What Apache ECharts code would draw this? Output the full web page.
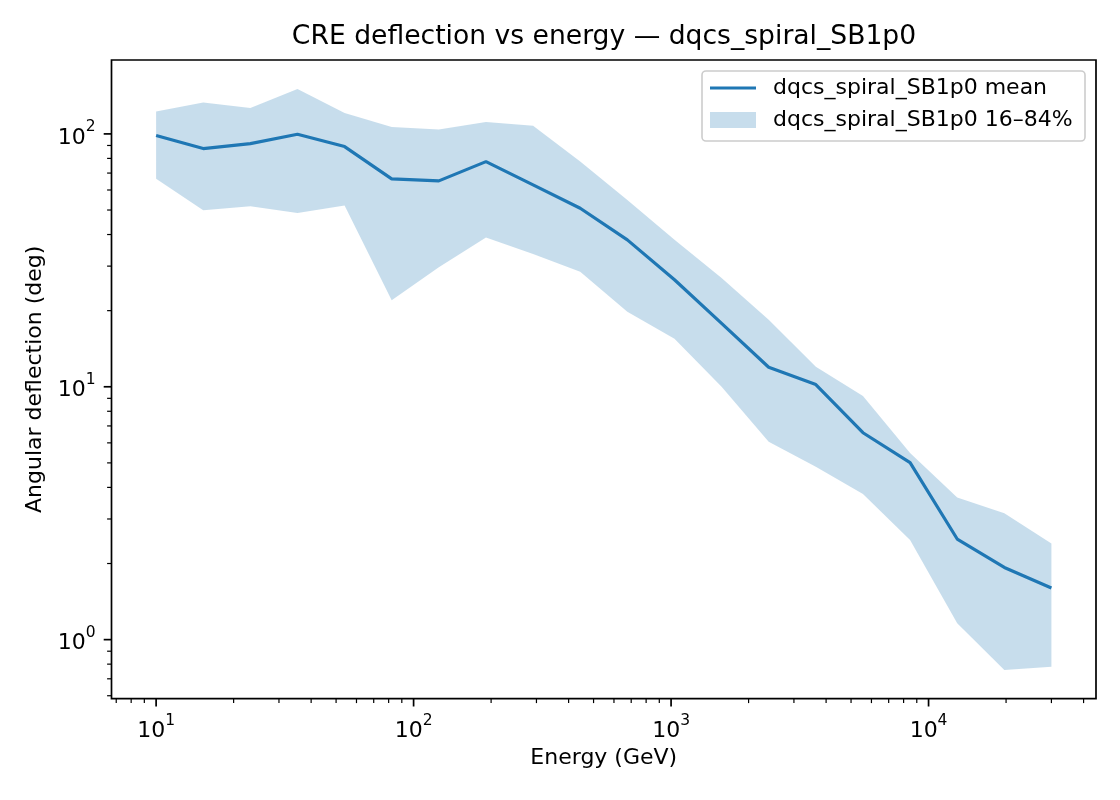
<!DOCTYPE html>
<html>
<head>
<meta charset="utf-8">
<style>html,body{margin:0;padding:0;background:#fff}#c{width:1120px;height:800px}</style>
<script src="https://cdn.jsdelivr.net/npm/echarts@6/dist/echarts.min.js"></script>
</head>
<body>
<div id="c"></div>
<script>
const energy = [10, 15.24, 23.23, 35.40, 53.95, 82.2, 125.3, 191.0, 291.1, 443.7, 676.3, 1031, 1571, 2394, 3649, 5562, 8477, 12920, 19690, 30000];
const meanDeflection = [98.5, 87.5, 91.5, 99.7, 89.1, 66.4, 65.2, 77.7, 62.9, 50.8, 38.1, 26.5, 17.8, 11.95, 10.2, 6.58, 5.01, 2.50, 1.93, 1.60];
const upper84 = [122.5, 133, 126.7, 150.6, 121, 106.6, 104, 111.5, 107.8, 77.7, 54.8, 38.1, 26.9, 18.4, 12.0, 9.2, 5.47, 3.65, 3.16, 2.40];
const lower16 = [66.4, 49.9, 51.8, 48.7, 52.1, 22.0, 29.7, 38.9, 33.5, 28.5, 19.8, 15.5, 10.0, 6.06, 4.83, 3.77, 2.48, 1.16, 0.758, 0.782];
const xMajorTicks = [10, 100, 1000, 10000];
const xMinorTicks = [7, 8, 9, 20, 30, 40, 50, 60, 70, 80, 90, 200, 300, 400, 500, 600, 700, 800, 900, 2000, 3000, 4000, 5000, 6000, 7000, 8000, 9000, 20000, 30000, 40000];
const yMajorTicks = [1, 10, 100];
const yMinorTicks = [0.6, 0.7, 0.8, 0.9, 2, 3, 4, 5, 6, 7, 8, 9, 20, 30, 40, 50, 60, 70, 80, 90];
const xRange = [6.71, 44700];
const yRange = [0.584, 196];
const titleText = 'CRE deflection vs energy — dqcs_spiral_SB1p0';
const meanName = 'dqcs_spiral_SB1p0 mean';
const bandName = 'dqcs_spiral_SB1p0 16–84%';

const FONT = 'DejaVu Sans';
const FS = 22;
const chart = echarts.init(document.getElementById('c'), null, {renderer: 'canvas'});

function powLabel(v) {
  const e = Math.log10(v);
  const r = Math.round(e);
  if (Math.abs(e - r) > 1e-6) return '';
  return '{b|10}{s|' + r + '}';
}
const richLabel = {
  b: {fontSize: FS, fontFamily: FONT, color: '#000', verticalAlign: 'bottom', lineHeight: 30},
  s: {fontSize: 15.5, fontFamily: FONT, color: '#000', verticalAlign: 'top', lineHeight: 30}
};

chart.setOption({
  animation: false,
  backgroundColor: '#fff',
  grid: {left: 111.5, right: 24, top: 60, bottom: 101.3, show: true, borderColor: '#000', borderWidth: 1.7, backgroundColor: 'transparent'},
  graphic: [
    {type: 'text', x: 604, y: 37, z: 10, style: {text: titleText, fontFamily: FONT, fontSize: 26.6, fill: '#000', textAlign: 'center', textVerticalAlign: 'middle'}},
    {type: 'rect', z: 5, shape: {x: 702, y: 71, width: 383, height: 70, r: 4}, style: {fill: 'rgba(255,255,255,0.8)', stroke: '#cccccc', lineWidth: 1.6}}
  ],
  legend: [
    {data: [meanName], left: 710, top: 75, padding: 0, icon: 'rect', itemWidth: 46, itemHeight: 3.2, z: 10,
     textStyle: {fontFamily: FONT, fontSize: FS, color: '#000', lineHeight: 26, padding: [0, 0, 0, 12]}},
    {data: [bandName], left: 710, top: 107, padding: 0, icon: 'rect', itemWidth: 46, itemHeight: 16, z: 10,
     textStyle: {fontFamily: FONT, fontSize: FS, color: '#000', lineHeight: 26, padding: [0, 0, 0, 12]}}
  ],
  xAxis: {
    type: 'log', logBase: 10, min: xRange[0], max: xRange[1],
    name: 'Energy (GeV)', nameLocation: 'middle', nameGap: 46,
    nameTextStyle: {fontFamily: FONT, fontSize: FS, color: '#000'},
    axisLine: {show: false}, axisTick: {show: false}, splitLine: {show: false}, minorTick: {show: false},
    axisLabel: {showMinLabel: false, showMaxLabel: false, margin: 14, formatter: powLabel, rich: richLabel}
  },
  yAxis: {
    type: 'log', logBase: 10, min: yRange[0], max: yRange[1],
    name: 'Angular deflection (deg)', nameLocation: 'middle', nameGap: 62,
    nameTextStyle: {fontFamily: FONT, fontSize: FS, color: '#000'},
    axisLine: {show: false}, axisTick: {show: false}, splitLine: {show: false}, minorTick: {show: false},
    axisLabel: {showMinLabel: false, showMaxLabel: false, margin: 16, formatter: powLabel, rich: richLabel}
  },
  series: [
    {
      name: bandName, type: 'custom', z: 1, clip: false,
      itemStyle: {color: 'rgba(31,119,180,0.25)'},
      data: [[energy[0], meanDeflection[0]]],
      renderItem: function (params, api) {
        const pts = [];
        for (let i = 0; i < energy.length; i++) pts.push(api.coord([energy[i], upper84[i]]));
        for (let i = energy.length - 1; i >= 0; i--) pts.push(api.coord([energy[i], lower16[i]]));
        return {type: 'polygon', shape: {points: pts}, style: {fill: 'rgba(31,119,180,0.25)', stroke: null}};
      }
    },
    {
      name: meanName, type: 'line', z: 3, showSymbol: false, symbol: 'none',
      lineStyle: {color: '#1f77b4', width: 3.2}, itemStyle: {color: '#1f77b4'},
      data: energy.map((e, i) => [e, meanDeflection[i]])
    },
    {
      name: 'ticks', type: 'custom', z: 4, clip: false, silent: true,
      data: [[energy[0], meanDeflection[0]]],
      renderItem: function (params, api) {
        const children = [];
        function xt(v, len, w) {
          const p = api.coord([v, yRange[0]]);
          children.push({type: 'line', shape: {x1: p[0], y1: p[1], x2: p[0], y2: p[1] + len}, style: {stroke: '#000', lineWidth: w}});
        }
        function yt(v, len, w) {
          const p = api.coord([xRange[0], v]);
          children.push({type: 'line', shape: {x1: p[0] - len, y1: p[1], x2: p[0], y2: p[1]}, style: {stroke: '#000', lineWidth: w}});
        }
        xMajorTicks.forEach(v => xt(v, 7.8, 1.7));
        xMinorTicks.forEach(v => xt(v, 4.4, 1.2));
        yMajorTicks.forEach(v => yt(v, 7.8, 1.7));
        yMinorTicks.forEach(v => yt(v, 4.4, 1.2));
        return {type: 'group', children: children};
      }
    }
  ]
});
</script>
</body>
</html>
